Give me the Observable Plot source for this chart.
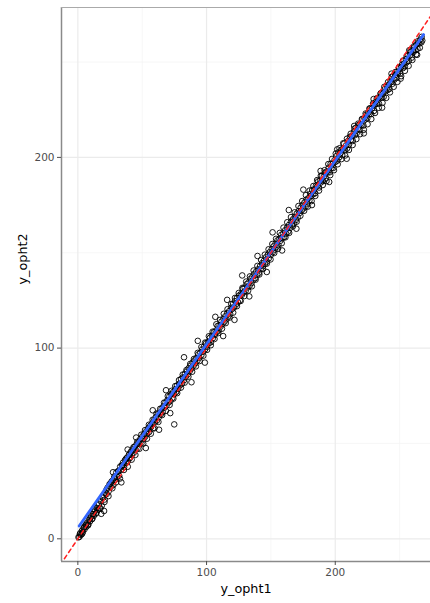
<!DOCTYPE html>
<html>
<head>
<meta charset="utf-8">
<script src="https://cdn.jsdelivr.net/npm/d3@7"></script>
<script src="https://cdn.jsdelivr.net/npm/@observablehq/plot@0.6"></script>
<style>
  html, body { margin: 0; padding: 0; background: white; }
</style>
</head>
<body>
<div id="chart"></div>
<script>
const y_opht1 = [
  0.5, 1.2, 1.8, 2.5, 3.1, 3.9, 4.4, 5.2, 5.9, 6.6,
  7.3, 8.1, 8.8, 9.5, 10.2, 11.0, 11.7, 12.4, 13.2, 14.0,
  14.7, 15.5, 16.3, 17.0, 17.8, 18.6, 19.3, 20.1, 20.9, 21.6,
  22.4, 23.1, 23.9, 24.6, 25.4, 26.1, 26.9, 27.6, 28.4, 29.1,
  29.9, 30.6, 31.4, 32.1, 32.9, 33.6, 34.4, 35.1, 35.9, 36.6,
  37.4, 38.1, 38.9, 39.6, 40.4, 41.1, 41.9, 42.6, 43.4, 44.1,
  44.9, 45.6, 46.4, 47.1, 47.9, 48.6, 49.4, 50.1, 50.9, 51.6,
  52.4, 53.1, 53.9, 54.6, 55.4, 56.1, 56.9, 57.6, 58.4, 59.1,
  59.9, 60.6, 61.4, 62.1, 62.9, 63.6, 64.4, 65.1, 65.9, 66.6,
  67.4, 68.1, 68.9, 69.6, 70.4, 71.1, 71.9, 72.6, 73.4, 74.1,
  74.9, 75.6, 76.4, 77.1, 77.9, 78.6, 79.4, 80.1, 80.9, 81.6,
  82.4, 83.1, 83.9, 84.6, 85.4, 86.1, 86.9, 87.6, 88.4, 89.1,
  89.9, 90.6, 91.4, 92.1, 92.9, 93.6, 94.4, 95.1, 95.9, 96.6,
  97.4, 98.1, 98.9, 99.6, 100.4, 101.1, 101.9, 102.6, 103.4, 104.1,
  104.9, 105.6, 106.4, 107.1, 107.9, 108.6, 109.4, 110.1, 110.9, 111.6,
  112.4, 113.1, 113.9, 114.6, 115.4, 116.1, 116.9, 117.6, 118.4, 119.1,
  119.9, 120.6, 121.4, 122.1, 122.9, 123.6, 124.4, 125.1, 125.9, 126.6,
  127.4, 128.1, 128.9, 129.6, 130.4, 131.1, 131.9, 132.6, 133.4, 134.1,
  134.9, 135.6, 136.4, 137.1, 137.9, 138.6, 139.4, 140.1, 140.9, 141.6,
  142.4, 143.1, 143.9, 144.6, 145.4, 146.1, 146.9, 147.6, 148.4, 149.1,
  149.9, 150.6, 151.4, 152.1, 152.9, 153.6, 154.4, 155.1, 155.9, 156.6,
  157.4, 158.1, 158.9, 159.6, 160.4, 161.1, 161.9, 162.6, 163.4, 164.1,
  164.9, 165.6, 166.4, 167.1, 167.9, 168.6, 169.4, 170.1, 170.9, 171.6,
  172.4, 173.1, 173.9, 174.6, 175.4, 176.1, 176.9, 177.6, 178.4, 179.1,
  179.9, 180.6, 181.4, 182.1, 182.9, 183.6, 184.4, 185.1, 185.9, 186.6,
  187.4, 188.1, 188.9, 189.6, 190.4, 191.1, 191.9, 192.6, 193.4, 194.1,
  194.9, 195.6, 196.4, 197.1, 197.9, 198.6, 199.4, 200.1, 200.9, 201.6,
  202.4, 203.1, 203.9, 204.6, 205.4, 206.1, 206.9, 207.6, 208.4, 209.1,
  209.9, 210.6, 211.4, 212.1, 212.9, 213.6, 214.4, 215.1, 215.9, 216.6,
  217.4, 218.1, 218.9, 219.6, 220.4, 221.1, 221.9, 222.6, 223.4, 224.1,
  224.9, 225.6, 226.4, 227.1, 227.9, 228.6, 229.4, 230.1, 230.9, 231.6,
  232.4, 233.1, 233.9, 234.6, 235.4, 236.1, 236.9, 237.6, 238.4, 239.1,
  239.9, 240.6, 241.4, 242.1, 242.9, 243.6, 244.4, 245.1, 245.9, 246.6,
  247.4, 248.1, 248.9, 249.6, 250.4, 251.1, 251.9, 252.6, 253.4, 254.1,
  254.9, 255.6, 256.4, 257.1, 257.9, 258.6, 259.4, 260.1, 260.9, 261.6,
  262.4, 263.1, 263.9, 264.6, 265.4, 266.1, 266.9, 267.6,
  12.5, 18.2, 20.4, 27.3, 33.8, 38.7, 45.3, 52.8, 58.2, 63.1,
  68.5, 71.8, 74.9, 82.5, 88.3, 93.2, 98.7, 106.8, 112.9, 116.0,
  121.7, 127.7, 133.2, 139.6, 146.8, 151.3, 158.7, 163.9, 169.8, 175.2,
  181.9, 188.6, 195.3, 201.5, 208.9, 214.7, 222.2, 229.8, 236.4, 243.7,
  250.8, 257.5, 263.6,
  1.6, 3.3, 4.9, 6.4, 8.0, 9.7, 11.3, 12.8, 14.5, 16.1,
  17.6, 19.0, 20.7, 22.2, 23.8, 25.3, 26.8, 28.2, 29.7, 31.3,
  32.7, 34.2, 35.8, 37.3, 38.8, 40.3, 41.8, 43.3, 44.7, 46.2,
  47.8, 49.3, 50.8, 52.2, 53.7, 55.2, 56.7, 58.1, 59.6, 61.1,
  62.6, 64.0, 65.5, 67.0, 68.4, 69.9, 71.3, 72.8, 74.2, 75.7,
  77.2, 78.6, 80.1, 81.5, 83.0, 84.4, 85.9, 87.3, 88.8, 90.2,
  91.7, 93.1, 94.6, 96.0, 97.5, 98.9, 100.4, 101.8, 103.3, 104.7,
  106.2, 107.6, 109.1, 110.5, 112.0, 113.4, 114.9, 116.3, 117.8, 119.2,
  120.7, 122.1, 123.6, 125.0, 126.5, 127.9, 129.4, 130.8, 132.3, 133.7,
  135.2, 136.6, 138.1, 139.5, 141.0, 142.4, 143.9, 145.3, 146.8, 148.2,
  149.7, 151.1, 152.6, 154.0, 155.5, 156.9, 158.4, 159.8, 161.3, 162.7,
  164.2, 165.6, 167.1, 168.5, 170.0, 171.4, 172.9, 174.3, 175.8, 177.2,
  178.7, 180.1, 181.6, 183.0, 184.5, 185.9, 187.4, 188.8, 190.3, 191.7,
  193.2, 194.6, 196.1, 197.5, 199.0, 200.4, 201.9, 203.3, 204.8, 206.2,
  207.7, 209.1, 210.6, 212.0, 213.5, 214.9, 216.4, 217.8, 219.3, 220.7,
  222.2, 223.6, 225.1, 226.5, 228.0, 229.4, 230.9, 232.3, 233.8, 235.2,
  236.7, 238.1, 239.6, 241.0, 242.5, 243.9, 245.4, 246.8, 248.3, 249.7,
  251.2, 252.6, 254.1, 255.5, 257.0, 258.4, 259.9, 261.3, 262.8, 264.2,
  265.7, 267.1
];
const y_opht2 = [
  0.8, 1.0, 2.9, 2.1, 4.2, 3.5, 5.6, 5.0, 7.1, 6.3,
  8.5, 7.6, 10.1, 9.2, 11.8, 10.3, 13.0, 12.1, 14.9, 13.2,
  16.2, 15.1, 18.4, 15.9, 19.7, 17.4, 21.5, 22.8, 20.6, 24.1,
  23.5, 26.8, 24.9, 28.6, 27.1, 29.9, 30.5, 28.2, 32.7, 31.0,
  34.8, 32.4, 35.6, 33.1, 37.9, 36.2, 38.4, 39.9, 37.5, 41.2,
  39.8, 42.5, 40.7, 43.9, 42.3, 45.6, 44.0, 46.9, 45.1, 48.2,
  46.8, 49.5, 47.3, 50.6, 49.8, 52.4, 50.1, 53.7, 52.2, 55.0,
  53.6, 56.3, 55.1, 57.9, 56.0, 59.2, 58.7, 60.4, 57.9, 62.1,
  61.3, 63.8, 62.0, 65.4, 63.7, 66.1, 65.2, 68.3, 66.4, 69.5,
  68.8, 71.4, 69.9, 72.7, 71.5, 74.6, 72.2, 75.9, 73.8, 77.0,
  75.9, 78.4, 77.0, 80.3, 78.6, 81.2, 80.5, 83.8, 81.4, 84.6,
  83.1, 86.4, 85.0, 87.7, 86.2, 89.5, 87.9, 90.8, 89.3, 92.4,
  90.7, 93.5, 92.1, 94.8, 93.4, 96.7, 95.0, 97.6, 96.2, 99.3,
  98.1, 100.8, 99.4, 102.5, 100.7, 103.2, 102.6, 105.4, 103.1, 106.5,
  105.2, 108.3, 106.9, 109.1, 108.4, 111.6, 109.2, 112.0, 111.3, 113.9,
  112.6, 115.4, 113.8, 116.7, 115.1, 118.3, 116.5, 119.4, 117.8, 121.2,
  120.5, 123.1, 121.4, 124.6, 122.9, 126.2, 124.1, 127.5, 125.0, 128.3,
  127.9, 131.0, 129.2, 131.7, 130.1, 133.5, 131.8, 134.4, 132.6, 136.3,
  134.1, 137.4, 135.8, 138.9, 136.7, 140.2, 138.5, 141.3, 139.6, 143.0,
  141.7, 144.5, 143.0, 145.8, 144.2, 147.6, 145.4, 148.9, 147.1, 150.3,
  148.8, 151.9, 150.2, 153.4, 151.6, 154.8, 153.1, 156.5, 154.0, 157.2,
  156.3, 159.4, 157.6, 160.1, 158.3, 161.8, 160.0, 163.2, 161.1, 164.6,
  163.0, 166.3, 164.7, 167.5, 165.4, 168.9, 167.2, 170.6, 168.4, 171.8,
  170.9, 173.6, 172.2, 175.1, 173.3, 176.4, 174.1, 177.9, 175.8, 178.6,
  177.4, 180.8, 179.9, 182.9, 180.7, 183.2, 181.2, 185.3, 184.8, 187.4,
  184.2, 187.7, 186.9, 190.3, 187.6, 190.0, 192.0, 188.9, 192.6, 192.1,
  194.6, 192.2, 196.6, 194.4, 196.6, 194.5, 198.5, 197.6, 200.7, 198.3,
  202.6, 200.1, 202.1, 204.0, 201.2, 204.5, 207.2, 203.8, 206.3, 204.6,
  208.6, 206.6, 210.9, 209.1, 211.1, 208.6, 213.3, 211.6, 215.5, 212.7,
  215.0, 217.0, 214.4, 217.5, 216.8, 220.0, 216.7, 220.6, 219.9, 222.4,
  220.5, 223.3, 222.6, 225.7, 222.7, 225.8, 227.4, 224.4, 227.7, 229.2,
  228.1, 231.0, 228.3, 231.7, 233.7, 231.3, 233.3, 231.7, 235.8, 234.7,
  237.6, 235.3, 237.9, 235.9, 240.0, 239.5, 238.6, 242.9, 240.8, 243.2,
  241.6, 244.8, 244.2, 247.0, 243.9, 247.2, 248.7, 246.8, 249.2, 247.7,
  251.5, 249.9, 253.6, 250.7, 253.4, 255.3, 252.3, 255.9, 255.3, 257.9,
  256.3, 259.1, 256.9, 260.1, 259.7, 261.8, 260.3, 261.3,
  15.6, 13.1, 14.6, 34.9, 29.6, 46.8, 53.1, 47.6, 67.4, 57.2,
  77.9, 65.9, 60.0, 95.2, 82.1, 103.8, 92.4, 116.4, 106.3, 125.3,
  114.8, 138.1, 127.1, 148.3, 139.9, 160.7, 151.2, 172.4, 162.6, 183.1,
  175.0, 192.9, 187.1, 204.2, 199.3, 216.5, 212.6, 230.6, 226.1, 243.9,
  241.3, 256.2, 253.8,
  2.4, 2.6, 6.1, 7.5, 7.1, 11.0, 10.6, 14.2, 13.7, 17.9,
  16.0, 21.7, 19.3, 25.6, 22.4, 28.9, 26.5, 31.8, 29.6, 35.2,
  31.6, 38.5, 36.1, 41.9, 37.8, 44.6, 41.5, 48.1, 44.0, 50.9,
  47.2, 54.6, 49.9, 57.0, 52.5, 59.8, 55.1, 62.4, 58.0, 65.7,
  61.3, 68.2, 64.9, 71.4, 67.1, 74.8, 70.2, 77.6, 73.5, 80.1,
  76.4, 83.2, 79.3, 86.1, 81.9, 88.5, 85.0, 91.7, 87.6, 94.3,
  90.4, 97.5, 93.2, 100.6, 96.0, 102.9, 99.1, 106.2, 101.5, 108.6,
  104.8, 112.5, 107.9, 114.8, 110.2, 118.0, 113.1, 120.4, 116.0, 123.1,
  118.6, 126.3, 122.0, 128.9, 124.7, 131.6, 127.3, 134.9, 130.1, 137.6,
  132.4, 140.7, 135.9, 143.1, 138.6, 146.2, 141.5, 149.0, 144.3, 151.8,
  146.5, 154.6, 149.9, 157.3, 152.1, 160.4, 155.0, 163.2, 158.1, 166.0,
  160.4, 168.7, 163.8, 171.2, 166.3, 174.5, 169.4, 177.1, 172.0, 180.2,
  174.2, 182.6, 177.1, 185.0, 179.8, 188.1, 182.6, 190.4, 185.5, 193.3,
  187.6, 196.5, 190.7, 199.2, 193.3, 202.0, 196.4, 204.8, 199.1, 207.4,
  201.0, 209.8, 203.9, 212.4, 206.5, 215.0, 209.6, 217.7, 212.2, 220.1,
  214.5, 223.0, 217.4, 225.6, 220.1, 228.3, 223.3, 231.0, 226.0, 233.4,
  228.6, 237.0, 231.2, 239.5, 234.1, 242.2, 237.0, 244.8, 239.6, 247.3,
  242.6, 250.7, 245.4, 253.1, 248.0, 256.0, 251.1, 258.4, 254.0, 260.9,
  257.5, 263.2
];

// fitted regression line (blue) endpoints and identity reference (red dashed)
const fit_x = [1.0, 268.6];
const fit_y = [6.7, 264.4];
const identity = [-30, 300];

const majorTicks = [0, 100, 200];
const minorTicks = [50, 150, 250];

const xDomain = [-12.7, 274.0];
const yDomain = [-11.9, 278.6];

const points = y_opht1.map((v, i) => ({x: v, y: y_opht2[i]}));
const fitLine = fit_x.map((v, i) => ({x: v, y: fit_y[i]}));
const refLine = identity.map(v => ({x: v, y: v}));

const chart = Plot.plot({
  width: 430,
  height: 603,
  marginLeft: 61,
  marginRight: 0,
  marginTop: 7,
  marginBottom: 42,
  x: {domain: xDomain},
  y: {domain: yDomain},
  style: {fontFamily: "'DejaVu Sans', sans-serif", background: "white", overflow: "visible"},
  marks: [
    Plot.gridX(minorTicks, {stroke: "#f3f3f3", strokeOpacity: 1, strokeWidth: 0.7}),
    Plot.gridY(minorTicks, {stroke: "#f3f3f3", strokeOpacity: 1, strokeWidth: 0.7}),
    Plot.gridX(majorTicks, {stroke: "#ebebeb", strokeOpacity: 1, strokeWidth: 1.2}),
    Plot.gridY(majorTicks, {stroke: "#ebebeb", strokeOpacity: 1, strokeWidth: 1.2}),
    Plot.dot(points, {x: "x", y: "y", r: 2.8, stroke: "black", strokeWidth: 0.9, fill: "none"}),
    Plot.line(fitLine, {x: "x", y: "y", stroke: "#3366FF", strokeWidth: 2.8}),
    Plot.line(refLine, {x: "x", y: "y", stroke: "#ff2020", strokeWidth: 1.5, strokeDasharray: "4,3.5", clip: true}),
    Plot.ruleX([xDomain[0]], {stroke: "#8a8a8a", strokeWidth: 1.5}),
    Plot.ruleY([yDomain[0]], {stroke: "#8a8a8a", strokeWidth: 1.5}),
    Plot.ruleY([yDomain[1]], {stroke: "#aaaaaa", strokeWidth: 1}),
    Plot.axisX(majorTicks, {tickSize: 4, tickPadding: 3, fontSize: 10.5, color: "#4d4d4d", label: null}),
    Plot.axisY(majorTicks, {tickSize: 4, tickPadding: 3, fontSize: 10.5, color: "#4d4d4d", label: null}),
    Plot.text(["y_opht1"], {frameAnchor: "bottom", dy: 31, fontSize: 12.8, fill: "black"}),
    Plot.text(["y_opht2"], {frameAnchor: "left", dx: -39, rotate: -90, fontSize: 12.8, fill: "black"})
  ]
});
document.getElementById("chart").appendChild(chart);
</script>
</body>
</html>
